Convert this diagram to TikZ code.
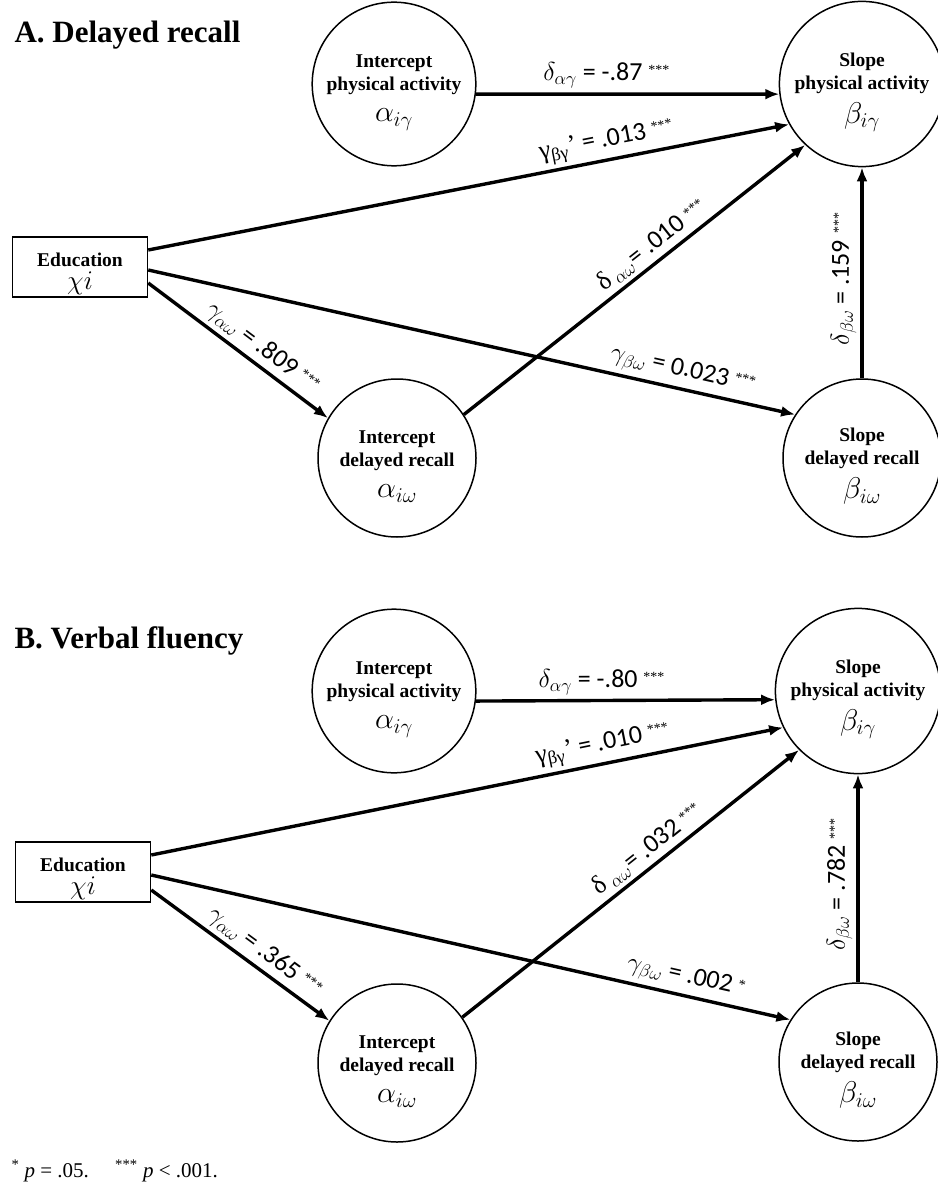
\documentclass[tikz,border=0pt]{standalone}
\usepackage{fix-cm}
\usepackage{fontspec}
\setmainfont{Liberation Serif}
\newfontfamily\carlito{Carlito}
\usetikzlibrary{arrows.meta}
\newcommand{\stars}[1]{\raisebox{6pt}{\rmfamily\fontsize{14}{14}\selectfont #1}}
\newcommand{\topgap}{\rule{0pt}{30pt}}

\begin{document}
\begin{tikzpicture}[x=1pt, y=-1pt,
    latent/.style={circle, draw, line width=1.5pt, minimum size=158pt, inner sep=0pt, align=center, font=\bfseries\fontsize{19.5}{23}\selectfont},
    observed/.style={rectangle, draw, line width=1.5pt, minimum width=135pt, minimum height=60pt, inner sep=0pt, align=center, font=\bfseries\fontsize{19.5}{23}\selectfont},
    regpath/.style={-{Latex[length=14pt,width=11pt]}, line width=3.4pt},
    coef/.style={sloped, above, inner sep=4pt, font=\carlito\fontsize{26}{28}\selectfont},
    panel/.style={anchor=base west, font=\bfseries\fontsize{31}{34}\selectfont}
  ]
    \useasboundingbox (0,0) rectangle (937,1190);

    % Panel A
    \node[panel] (titleA) at (11,43) {A. Delayed recall};
    \node[latent] (ipaA) at (394,84) {\topgap Intercept\\physical activity\\[8pt]{\fontsize{30}{30}\selectfont$\alpha_{i\gamma}$}};
    \node[latent] (spaA) at (862,84) {\topgap Slope\\physical activity\\[8pt]{\fontsize{30}{30}\selectfont$\beta_{i\gamma}$}};
    \node[observed] (eduA) at (80,267) {\rule{0pt}{27pt}Education\\{\fontsize{27}{28}\selectfont$\chi i$}};
    \node[latent] (idrA) at (397,458) {\topgap Intercept\\delayed recall\\[8pt]{\fontsize{30}{30}\selectfont$\alpha_{i\omega}$}};
    \node[latent] (sdrA) at (862,458) {\topgap Slope\\delayed recall\\[8pt]{\fontsize{30}{30}\selectfont$\beta_{i\omega}$}};

    \draw[regpath] (ipaA.353) -- node[coef, pos=.43] {$\delta_{\alpha\gamma}$ = -.87 \stars{***}} (spaA.187);
    \draw[regpath] ([yshift=17pt]eduA.east) -- node[coef, pos=.72] {{\rmfamily γ\textsubscript{βγ}’} = .013 \stars{***}} (spaA.209);
    \draw[regpath] ([yshift=-3pt]eduA.east) -- node[coef, pos=.82] {$\gamma_{\beta\omega}$ = 0.023 \stars{***}} (sdrA.147);
    \draw[regpath] ([yshift=-16pt]eduA.east) -- node[coef, pos=.58] {$\gamma_{\alpha\omega}$ = .809 \stars{***}} (idrA.150);
    \draw[regpath] (idrA.33) -- node[coef, pos=.58] {{\rmfamily δ}\,$_{\alpha\omega}$= .010 \stars{***}} (spaA.227);
    \draw[regpath] (sdrA) -- node[coef, pos=.47] {$\delta_{\beta\omega}$ = .159 \stars{***}} (spaA);

    % Panel B
    \node[panel] (titleB) at (11,648) {B. Verbal fluency};
    \node[latent] (ipaB) at (394,691) {\topgap Intercept\\physical activity\\[8pt]{\fontsize{30}{30}\selectfont$\alpha_{i\gamma}$}};
    \node[latent] (spaB) at (858,691) {\topgap Slope\\physical activity\\[8pt]{\fontsize{30}{30}\selectfont$\beta_{i\gamma}$}};
    \node[observed] (eduB) at (83,872) {\rule{0pt}{27pt}Education\\{\fontsize{27}{28}\selectfont$\chi i$}};
    \node[latent] (idrB) at (397,1063) {\topgap Intercept\\delayed recall\\[8pt]{\fontsize{30}{30}\selectfont$\alpha_{i\omega}$}};
    \node[latent] (sdrB) at (858,1062) {\topgap Slope\\delayed recall\\[8pt]{\fontsize{30}{30}\selectfont$\beta_{i\omega}$}};

    \draw[regpath] (ipaB.353) -- node[coef, pos=.42] {$\delta_{\alpha\gamma}$ = -.80 \stars{***}} (spaB.186);
    \draw[regpath] ([yshift=17pt]eduB.east) -- node[coef, pos=.72] {{\rmfamily γ\textsubscript{βγ}’} = .010 \stars{***}} (spaB.206);
    \draw[regpath] ([yshift=-3pt]eduB.east) -- node[coef, pos=.83] {$\gamma_{\beta\omega}$ = .002 \stars{*}} (sdrB.148);
    \draw[regpath] ([yshift=-18pt]eduB.east) -- node[coef, pos=.58] {$\gamma_{\alpha\omega}$ = .365 \stars{***}} (idrB.148);
    \draw[regpath] (idrB.35) -- node[coef, pos=.58] {{\rmfamily δ}\,$_{\alpha\omega}$= .032 \stars{***}} (spaB.225);
    \draw[regpath] (sdrB) -- node[coef, pos=.47] {$\delta_{\beta\omega}$ = .782 \stars{***}} (spaB);

    % Note
    \node[anchor=base west, font=\fontsize{21}{23}\selectfont] (note) at (8,1177) {\textsuperscript{*} \textit{p} = .05.\quad\ \textsuperscript{***} \textit{p} < .001.};
  \end{tikzpicture}
\end{document}
